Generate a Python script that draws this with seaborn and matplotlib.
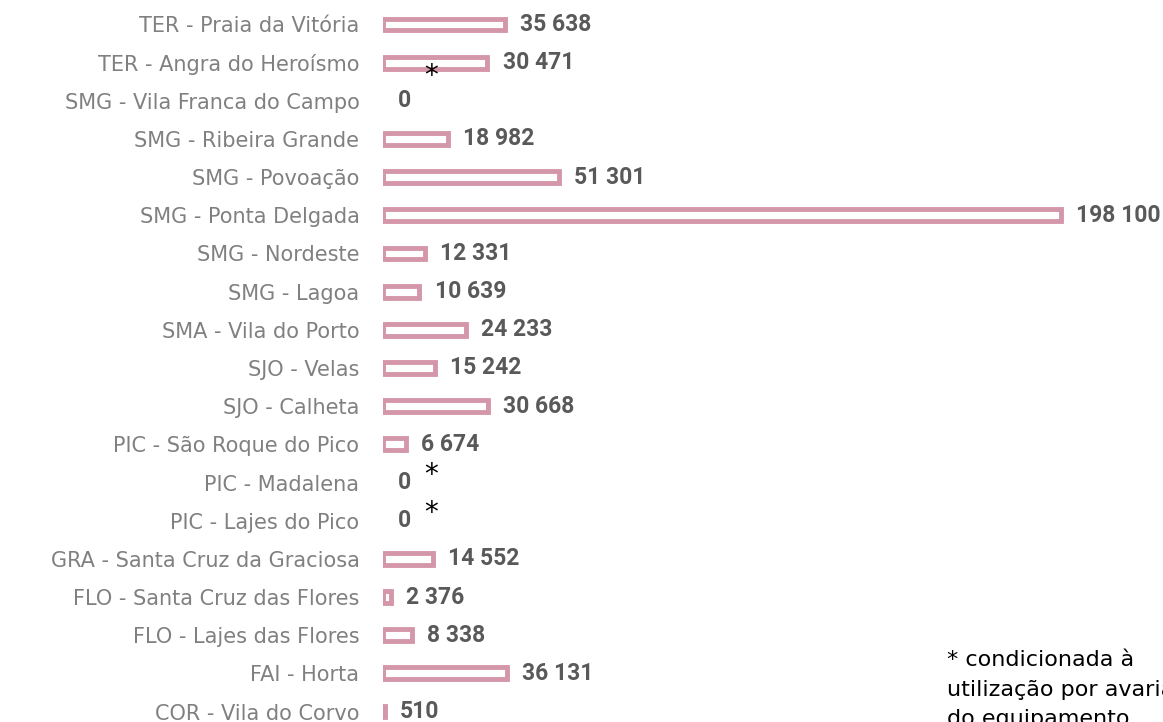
import matplotlib
matplotlib.use("Agg")
import matplotlib.pyplot as plt
import seaborn as sns
import pandas as pd

# dados (de cima para baixo)
concelhos = [
    "TER - Praia da Vitória",
    "TER - Angra do Heroísmo",
    "SMG - Vila Franca do Campo",
    "SMG - Ribeira Grande",
    "SMG - Povoação",
    "SMG - Ponta Delgada",
    "SMG - Nordeste",
    "SMG - Lagoa",
    "SMA - Vila do Porto",
    "SJO - Velas",
    "SJO - Calheta",
    "PIC - São Roque do Pico",
    "PIC - Madalena",
    "PIC - Lajes do Pico",
    "GRA - Santa Cruz da Graciosa",
    "FLO - Santa Cruz das Flores",
    "FLO - Lajes das Flores",
    "FAI - Horta",
    "COR - Vila do Corvo",
]
valores = [35638, 30471, 0, 18982, 51301, 198100, 12331, 10639, 24233,
           15242, 30668, 6674, 0, 0, 14552, 2376, 8338, 36131, 510]
com_asterisco = ["TER - Angra do Heroísmo", "PIC - Madalena", "PIC - Lajes do Pico"]
nota = "* condicionada à\nutilização por avaria\ndo equipamento"

ROSA = "#d496a9"

df = pd.DataFrame({"concelho": concelhos, "valor": valores})

sns.set_theme(style="white")
plt.rcParams['font.family'] = ['DejaVu Sans']

W, H = 1163, 722
fig = plt.figure(figsize=(W / 100, H / 100), dpi=100)
top_px, bot_px = 5.4, 730.6
ax = fig.add_axes([383 / W, (H - bot_px) / H, (W - 383) / W, (bot_px - top_px) / H])

sns.barplot(data=df, y="concelho", x="valor", orient="h", color="white",
            saturation=1, edgecolor=ROSA, linewidth=3.5, width=0.31, ax=ax)

for p in ax.patches:
    if p.get_width() == 0:
        p.set_visible(False)

ax.set_xlim(0, 198100 * (W - 383) / (1061 - 383))
ax.set_xticks([])
ax.set_xlabel("")
ax.set_ylabel("")
sns.despine(ax=ax, left=True, bottom=True)
ax.tick_params(axis="y", length=0, pad=17, labelsize=15, labelcolor="#808080")

for i, v in enumerate(valores):
    ax.annotate(f"{v:,}".replace(",", " "), xy=(v, i), xytext=(11, 0),
                textcoords="offset points", ha="left", va="center",
                fontsize=16.5, fontweight="bold", color="#595959",
                family="Roboto", annotation_clip=False)

for nome in com_asterisco:
    i = concelhos.index(nome)
    dy = 0.35 if i == 1 else -0.2
    ax.text(14000, i + dy, "*", ha="center", va="center", fontsize=20,
            color="black")

fig.text(947 / W, 1 - 650 / H, nota, ha="left", va="top", fontsize=16,
         color="black", linespacing=1.6)

fig.savefig("out.png", dpi=100)
